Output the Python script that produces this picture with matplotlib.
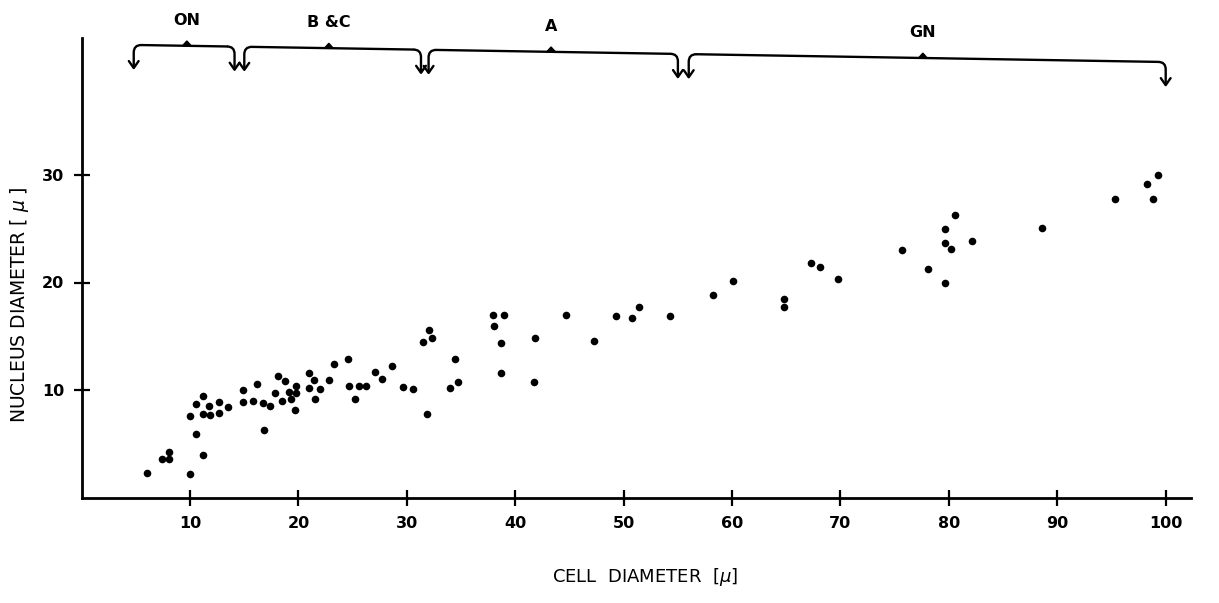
import matplotlib
matplotlib.use("Agg")
import matplotlib.pyplot as plt
import numpy as np
from matplotlib.path import Path
from matplotlib.patches import PathPatch

# ---- data ----
cell_diameter = [
    6.0, 7.4, 8.05, 8.05, 10.0, 10.0, 10.5, 11.2, 10.5, 11.2, 11.7, 11.2, 11.8,
    12.7, 12.7, 13.5, 14.9, 14.9, 16.2, 15.8, 16.7, 17.4, 16.8, 17.8, 18.1,
    18.5, 18.8, 19.1, 19.3, 19.8, 19.8, 19.7, 21.0, 21.4, 21.0, 22.0, 21.5,
    22.8, 23.3, 24.6, 24.7, 25.2, 25.6, 26.2, 27.1, 27.7, 28.6, 29.6, 30.6,
    32.0, 31.5, 32.3, 31.9, 34.4, 34.0, 34.7,
    37.9, 39.0, 38.0, 38.7, 38.7, 41.8, 41.7, 44.7, 47.3, 49.3, 50.8, 51.4, 54.3,
    58.2, 60.1, 64.8, 64.8, 67.3, 68.1, 69.8, 75.7, 78.1, 79.6, 79.6, 80.2,
    80.6, 82.1, 79.6, 88.6, 95.3, 98.3, 99.3, 98.8,
]
nucleus_diameter = [
    2.3, 3.6, 4.2, 3.6, 2.2, 7.6, 5.9, 4.0, 8.7, 9.4, 8.5, 7.8, 7.7,
    8.9, 7.9, 8.4, 10.0, 8.9, 10.6, 9.0, 8.8, 8.5, 6.3, 9.7, 11.3,
    9.0, 10.8, 9.8, 9.2, 10.4, 9.7, 8.1, 11.6, 10.9, 10.2, 10.1, 9.2,
    10.9, 12.4, 12.9, 10.4, 9.2, 10.4, 10.4, 11.7, 11.0, 12.2, 10.3, 10.1,
    15.6, 14.5, 14.8, 7.8, 12.9, 10.2, 10.7,
    17.0, 17.0, 16.0, 14.4, 11.6, 14.8, 10.7, 17.0, 14.6, 16.9, 16.7, 17.7, 16.9,
    18.8, 20.1, 18.5, 17.7, 21.8, 21.4, 20.3, 23.0, 21.3, 25.0, 23.7, 23.1,
    26.3, 23.9, 20.0, 25.1, 27.8, 29.2, 30.0, 27.8,
]
x_ticks = [10, 20, 30, 40, 50, 60, 70, 80, 90, 100]
y_ticks = [10, 20, 30]

# cell-type groups shown by braces at the top
group_names = ["ON", "B &C", "A", "GN"]
group_start = [4.8, 15.0, 32.0, 56.0]
group_end = [14.1, 31.3, 55.0, 100.0]
group_center = [9.7, 22.8, 43.3, 77.6]

# ---- figure ----
W, H = 1219, 603
fig = plt.figure(figsize=(W / 100, H / 100), dpi=100)
x0, x1 = 81.7, 1190.6
ytop, ybot = 38.0, 497.5
ax = fig.add_axes([x0 / W, (H - ybot) / H, (x1 - x0) / W, (ybot - ytop) / H])
ax.set_xlim(0, (x1 - x0) / 10.84)
ax.set_ylim(0, (ybot - ytop) / 10.75)

ax.scatter(cell_diameter, nucleus_diameter, s=30, color="black", zorder=3,
           linewidths=0)

for s in ["top", "right"]:
    ax.spines[s].set_visible(False)
for s in ["left", "bottom"]:
    ax.spines[s].set_linewidth(2.0)

tick_font = dict(family=["DejaVu Sans"], weight="bold", size=11.5)
ax.set_xticks(x_ticks)
ax.set_xticklabels([str(v) for v in x_ticks], **tick_font)
ax.set_yticks(y_ticks)
ax.set_yticklabels([str(v) for v in y_ticks], **tick_font)
ax.tick_params(axis="both", direction="inout", length=11, width=1.6, color="black")
ax.tick_params(axis="x", pad=8)
ax.tick_params(axis="y", pad=7)

fig.text(645 / W, 1 - 577 / H, "CELL  DIAMETER  [$\\mu$]", ha="center", va="center",
         fontsize=13, family="DejaVu Sans")
fig.text(20 / W, 1 - 305 / H, "NUCLEUS DIAMETER [ $\\mu$ ]", ha="center", va="center",
         rotation=90, fontsize=13.5, family="DejaVu Sans")

# ---- braces ----
def line_y(x):
    return 42.1 - 0.0167 * (x - 4.8)

drop = 2.15
lw = 1.7
kw = dict(color="black", lw=lw, clip_on=False, solid_capstyle="round")


def end_hook(xe, direction):
    # direction=+1: left end (line goes to the right), -1: right end
    yl = line_y(xe + direction * 0.6)
    yt = line_y(xe) - drop
    verts = [(xe + direction * 0.7, yl), (xe, yl), (xe, yl - 0.7), (xe, yt)]
    codes = [Path.MOVETO, Path.CURVE3, Path.CURVE3, Path.LINETO]
    ax.add_patch(PathPatch(Path(verts, codes), fill=False, lw=lw,
                           edgecolor="black", clip_on=False))
    ax.plot([xe - 0.45, xe, xe + 0.45], [yt + 0.65, yt, yt + 0.65], **kw)
    return yl


for name, xa, xb, xc in zip(group_names, group_start, group_end, group_center):
    end_hook(xa, +1)
    end_hook(xb, -1)
    ax.plot([xa + 0.7, xb - 0.7], [line_y(xa + 0.7), line_y(xb - 0.7)], **kw)
    yc = line_y(xc)
    ax.fill([xc - 0.4, xc + 0.4, xc], [yc, yc, yc + 0.45], color="black",
            clip_on=False)
    ax.text(xc, yc + 2.35, name, ha="center", va="center", fontsize=11.5,
            weight="bold", family="DejaVu Sans", clip_on=False)

fig.savefig("out.png", dpi=100, facecolor="white")
